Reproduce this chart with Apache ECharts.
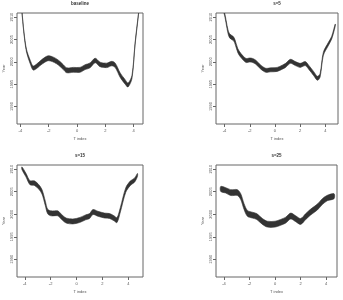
<!DOCTYPE html>
<html>
<head>
<meta charset="utf-8">
<script src="https://cdn.jsdelivr.net/npm/echarts@6/dist/echarts.min.js"></script>
<style>
  html, body { margin: 0; background: #fff; }
  #chart { width: 343px; height: 300px; }
</style>
</head>
<body>
<div id="chart"></div>
<script>
const titles = ['baseline', 's=5', 's=15', 's=25'];
const xTicks = [-4, -2, 0, 2, 4];
const yTicks = [1990, 1995, 2000, 2005, 2010];

// baseline
const x1 = [-3.91, -3.75, -3.57, -3.3, -3.1, -2.85, -2.63, -2.3, -2.04, -1.75, -1.44, -1.2, -0.97, -0.73, -0.26, 0.21, 0.57, 0.92, 1.28, 1.63, 2.1, 2.46, 2.7, 3.05, 3.4, 3.6, 3.88, 4.1, 4.36];
const c1 = [2011.8, 2006.5, 2002.5, 1999.9, 1998.6, 1999.0, 1999.6, 2000.4, 2000.8, 2000.6, 2000.1, 1999.5, 1998.8, 1998.1, 1998.2, 1998.2, 1998.8, 1999.2, 2000.3, 1999.4, 1999.2, 1999.6, 1999.2, 1997.0, 1995.5, 1994.8, 1996.6, 2004.0, 2011.2];
const w1 = [0.3, 0.4, 0.6, 0.8, 0.9, 1.0, 1.0, 1.1, 1.1, 1.1, 1.1, 1.1, 1.1, 1.1, 1.1, 1.1, 1.1, 1.1, 1.0, 1.0, 1.0, 1.0, 1.0, 1.0, 1.0, 0.9, 0.7, 0.4, 0.3];

// s=5
const x2 = [-4.32, -4.0, -3.74, -3.6, -3.35, -3.2, -2.95, -2.7, -2.3, -2.0, -1.78, -1.52, -1.12, -0.73, -0.34, 0.18, 0.58, 0.84, 1.23, 1.62, 2.0, 2.4, 2.67, 3.06, 3.37, 3.58, 3.84, 4.24, 4.5, 4.78];
const c2 = [2014.0, 2010.7, 2006.9, 2005.8, 2005.3, 2004.7, 2002.5, 2001.4, 2000.3, 2000.4, 2000.3, 1999.9, 1998.8, 1998.1, 1998.2, 1998.3, 1998.8, 1999.2, 2000.1, 1999.6, 1999.2, 1999.6, 1998.8, 1997.4, 1996.3, 1997.0, 2001.8, 2004.0, 2005.4, 2008.2];
const w2 = [0.5, 0.6, 0.8, 0.9, 0.9, 0.9, 0.9, 0.9, 0.9, 0.9, 0.9, 0.9, 0.9, 0.9, 0.9, 0.9, 0.9, 0.9, 0.9, 0.9, 0.9, 0.9, 0.9, 0.9, 0.9, 0.8, 0.7, 0.7, 0.6, 0.5];

// s=15
const x3 = [-4.22, -3.91, -3.6, -3.26, -2.93, -2.67, -2.41, -2.23, -1.97, -1.45, -1.19, -0.8, -0.28, 0.23, 0.7, 1.01, 1.27, 1.66, 2.18, 2.56, 2.9, 3.13, 3.39, 3.81, 4.17, 4.5, 4.71];
const c3 = [2010.2, 2008.7, 2007.0, 2006.9, 2006.1, 2005.0, 2002.4, 2000.6, 2000.2, 2000.2, 1999.5, 1998.6, 1998.4, 1998.7, 1999.3, 1999.6, 2000.5, 2000.1, 1999.7, 1999.6, 1999.1, 1998.7, 2001.0, 2005.4, 2006.9, 2007.6, 2008.7];
const w3 = [0.6, 0.8, 0.9, 1.0, 1.0, 1.0, 1.0, 1.0, 1.1, 1.1, 1.1, 1.1, 1.1, 1.1, 1.1, 1.1, 1.1, 1.1, 1.1, 1.1, 1.1, 1.1, 1.0, 1.0, 1.0, 0.9, 0.7];

// s=25
const x4 = [-4.26, -3.87, -3.48, -2.95, -2.69, -2.43, -2.17, -1.78, -1.44, -0.99, -0.6, 0, 0.44, 0.84, 1.23, 1.62, 2.01, 2.41, 2.8, 3.32, 3.71, 4.1, 4.63];
const c4 = [2005.6, 2005.3, 2004.8, 2004.8, 2003.9, 2001.7, 2000.2, 1999.8, 1999.5, 1998.4, 1997.8, 1997.8, 1998.2, 1998.7, 1999.6, 1999.0, 1998.4, 1999.5, 2000.5, 2001.6, 2002.8, 2003.6, 2004.0];
const w4 = [1.1, 1.2, 1.3, 1.3, 1.3, 1.3, 1.3, 1.3, 1.3, 1.3, 1.3, 1.3, 1.3, 1.3, 1.3, 1.3, 1.3, 1.3, 1.3, 1.3, 1.3, 1.2, 1.1];

const panels = [
  { x: x1, c: c1, w: w1, xmin: -4.24, xmax: 4.66, grid: { left: 17, top: 13, width: 126, height: 111 } },
  { x: x2, c: c2, w: w2, xmin: -4.68, xmax: 5.0, grid: { left: 216, top: 13, width: 122, height: 111 } },
  { x: x3, c: c3, w: w3, xmin: -4.6, xmax: 5.14, grid: { left: 17, top: 165, width: 126, height: 112 } },
  { x: x4, c: c4, w: w4, xmin: -4.63, xmax: 4.86, grid: { left: 216, top: 165, width: 121, height: 112 } }
];

const textColor = '#555';
const boxColor = '#666';
const bandColor = '#333';

const chart = echarts.init(document.getElementById('chart'));

const option = {
  animation: false,
  grid: panels.map(p => Object.assign({
    show: true, borderColor: boxColor, borderWidth: 1, backgroundColor: 'transparent'
  }, p.grid)),
  xAxis: panels.map((p, i) => ({
    type: 'value', gridIndex: i, min: p.xmin, max: p.xmax, position: 'bottom',
    axisLine: { show: false, onZero: false },
    axisTick: { show: true, length: 3, customValues: xTicks, lineStyle: { color: boxColor } },
    axisLabel: { customValues: xTicks, fontSize: 4, color: textColor, margin: 5, fontFamily: 'Liberation Sans' },
    splitLine: { show: false },
    name: 'T index', nameLocation: 'middle', nameGap: 13,
    nameTextStyle: { fontSize: 4, color: textColor, fontFamily: 'Liberation Sans' }
  })),
  yAxis: panels.map((p, i) => ({
    type: 'value', gridIndex: i, min: 1986.08, max: 2010.92, position: 'left',
    axisLine: { show: false, onZero: false },
    axisTick: { show: true, length: 3, customValues: yTicks, lineStyle: { color: boxColor } },
    axisLabel: {
      customValues: yTicks, fontSize: 4, rotate: 90, color: textColor, margin: 3,
      fontFamily: 'Liberation Sans', formatter: v => String(v)
    },
    splitLine: { show: false },
    name: 'Year', nameLocation: 'middle', nameGap: 11,
    nameTextStyle: { fontSize: 4, color: textColor, fontFamily: 'Liberation Sans' }
  })),
  graphic: panels.map((p, i) => ({
    type: 'text',
    x: p.grid.left + p.grid.width / 2,
    y: p.grid.top - 9,
    style: {
      text: titles[i], fill: '#333', textAlign: 'center', textVerticalAlign: 'middle',
      font: 'bold 4.5px "Liberation Sans"'
    }
  })),
  series: panels.map((p, i) => ({
    type: 'custom',
    xAxisIndex: i, yAxisIndex: i,
    clip: true,
    data: [0],
    renderItem: function (params, api) {
      const upper = p.x.map((xv, k) => api.coord([xv, p.c[k] + p.w[k] / 2]));
      const lower = p.x.map((xv, k) => api.coord([xv, p.c[k] - p.w[k] / 2])).reverse();
      return {
        type: 'polygon',
        shape: { points: upper.concat(lower), smooth: 0.3 },
        style: { fill: bandColor, stroke: bandColor, lineWidth: 0.6 }
      };
    }
  }))
};

chart.setOption(option);
</script>
</body>
</html>
